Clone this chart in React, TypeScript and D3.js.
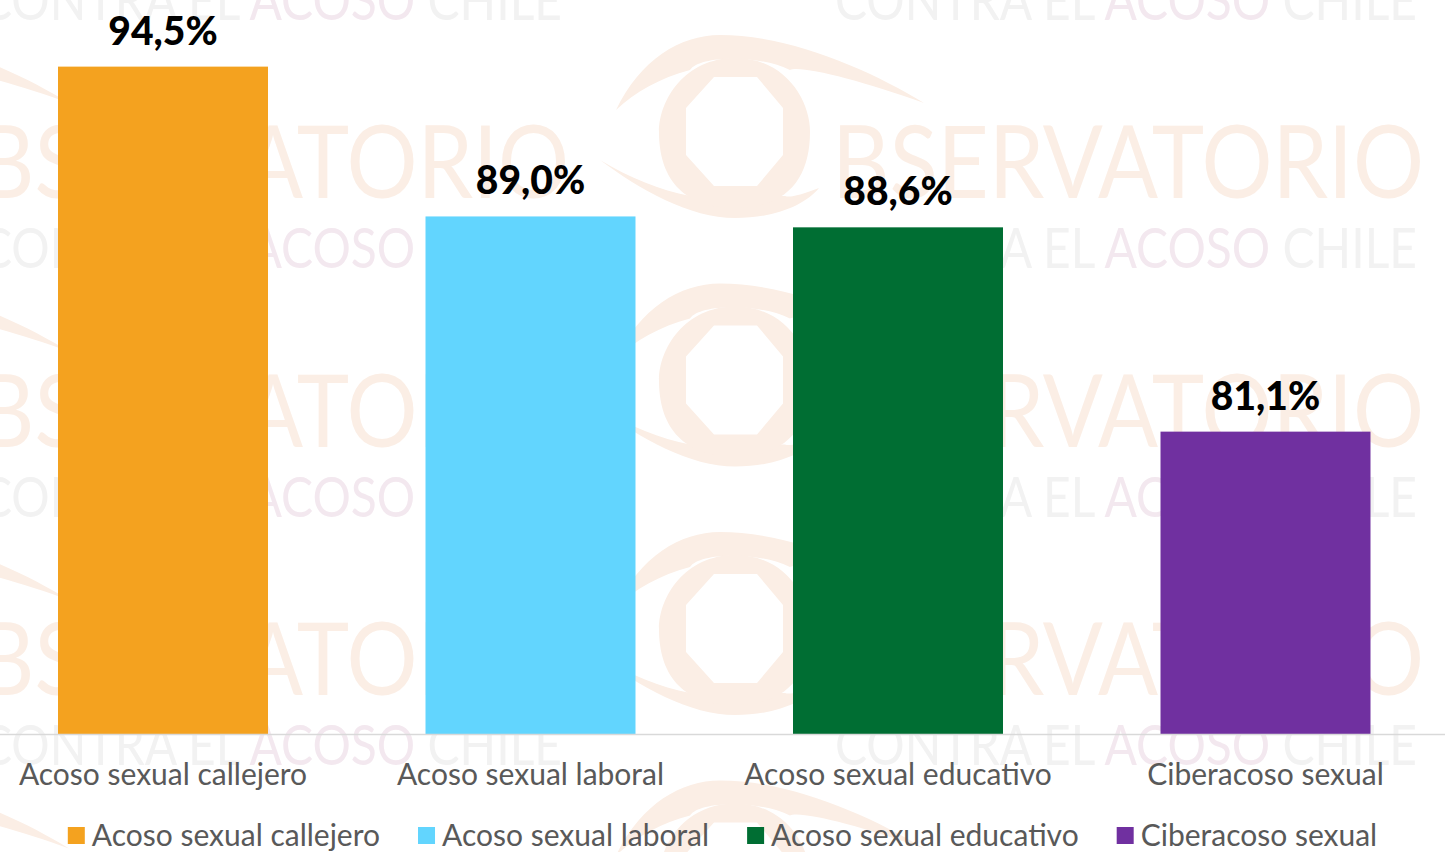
import React, { useEffect, useRef } from 'react';
import * as d3 from 'd3';

const categories = ['Acoso sexual callejero', 'Acoso sexual laboral', 'Acoso sexual educativo', 'Ciberacoso sexual'];
const values = [94.5, 89.0, 88.6, 81.1];
const colors = ['#F4A21F', '#62D5FE', '#006E33', '#7030A0'];
const valueLabels = ['94,5%', '89,0%', '88,6%', '81,1%'];

const W = 1445;
const H = 852;
const FONT = 'Lato, "Open Sans", sans-serif';

// faint logo tiled behind the chart
const drawWatermark = (g) => {
    const peach = '#FBEEE5';
    const grey = '#F2F2F2';
    const pink = '#F3E8EF';
    const tileW = 855;
    const tileH = 248.5;

    for (let row = -1; row <= 3; row++) {
        for (let col = -1; col <= 1; col++) {
            const t = g.append('g')
                .attr('transform', `translate(${col * tileW}, ${row * tileH})`);

            // eye: upper lid, lower lid, ring
            t.append('path')
                .attr('d', 'M616,110 C640,60 680,35 720,35 C790,35 870,70 924,103 C860,80 800,65 790,70 C760,55 700,55 690,70 C660,78 635,92 616,110 Z')
                .attr('fill', peach);
            t.append('path')
                .attr('d', 'M600,160 C640,190 690,218 735,218 C775,218 805,205 819,188 C800,195 790,198 785,196 L690,196 C660,190 630,178 600,160 Z')
                .attr('fill', peach);
            t.append('path')
                .attr('d', 'M735,58 C785,58 810,100 810,132 C810,175 790,208 735,208 C680,208 659,175 659,132 C659,100 685,58 735,58 Z ' +
                    'M714,77 L686,108 L686,155 L714,186 L757,186 L783,155 L783,108 L757,77 Z')
                .attr('fill', peach)
                .attr('fill-rule', 'evenodd');

            t.append('text')
                .attr('x', 832)
                .attr('y', 198)
                .attr('textLength', 592)
                .attr('lengthAdjust', 'spacingAndGlyphs')
                .style('font-family', FONT)
                .style('font-size', '101px')
                .attr('fill', peach)
                .text('BSERVATORIO');

            const contra = t.append('text')
                .attr('x', 835)
                .attr('y', 268)
                .attr('textLength', 582)
                .attr('lengthAdjust', 'spacingAndGlyphs')
                .style('font-family', FONT)
                .style('font-size', '56px');
            contra.append('tspan').attr('fill', grey).text('CONTRA EL ');
            contra.append('tspan').attr('fill', pink).text('ACOSO');
            contra.append('tspan').attr('fill', grey).text(' CHILE');
        }
    }
};

const App = () => {
    const svgRef = useRef(null);

    useEffect(() => {
        if (!svgRef.current) return;
        d3.select(svgRef.current).selectAll('*').remove();

        const svg = d3.select(svgRef.current)
            .attr('width', W)
            .attr('height', H);

        svg.append('rect').attr('width', W).attr('height', H).attr('fill', '#ffffff');
        drawWatermark(svg.append('g'));

        const x = d3.scaleBand()
            .domain(categories)
            .range([-20.75, 1449.25])
            .paddingInner(0.4286)
            .paddingOuter(0.2143);

        const y = d3.scaleLinear()
            .domain([70, 95])
            .range([734, 53]);

        // bars
        svg.append('g')
            .selectAll('rect')
            .data(values)
            .enter()
            .append('rect')
            .attr('x', (d, i) => x(categories[i]))
            .attr('y', d => y(d))
            .attr('width', x.bandwidth())
            .attr('height', d => y(70) - y(d))
            .attr('fill', (d, i) => colors[i]);

        // value labels
        svg.append('g')
            .selectAll('text')
            .data(values)
            .enter()
            .append('text')
            .attr('x', (d, i) => x(categories[i]) + x.bandwidth() / 2)
            .attr('y', d => y(d) - 22)
            .attr('text-anchor', 'middle')
            .style('font-family', FONT)
            .style('font-weight', 900)
            .style('font-size', '39px')
            .attr('fill', '#000000')
            .text((d, i) => valueLabels[i]);

        // x axis
        svg.append('line')
            .attr('x1', 0)
            .attr('x2', W)
            .attr('y1', y(70) + 0.5)
            .attr('y2', y(70) + 0.5)
            .attr('stroke', '#D9D9D9')
            .attr('stroke-width', 1.5);

        svg.append('g')
            .selectAll('text')
            .data(categories)
            .enter()
            .append('text')
            .attr('x', d => x(d) + x.bandwidth() / 2)
            .attr('y', 785)
            .attr('text-anchor', 'middle')
            .style('font-family', FONT)
            .style('font-size', '30px')
            .attr('fill', '#595959')
            .text(d => d);

        // legend
        const legend = svg.append('g');
        const items = categories.map((c, i) => {
            const g = legend.append('g');
            g.append('rect')
                .attr('width', 17)
                .attr('height', 17)
                .attr('y', 827)
                .attr('fill', colors[i]);
            const txt = g.append('text')
                .attr('x', 24)
                .attr('y', 846)
                .style('font-family', FONT)
                .style('font-size', '30px')
                .attr('fill', '#595959')
                .text(c);
            const w = 24 + txt.node().getComputedTextLength();
            return { g, w };
        });
        const gap = 38;
        const total = d3.sum(items, d => d.w) + gap * (items.length - 1);
        let cx = (W - total) / 2;
        items.forEach(it => {
            it.g.attr('transform', `translate(${cx}, 0)`);
            cx += it.w + gap;
        });
    }, []);

    return (
        <div style={{ position: 'absolute', left: 0, top: 0 }}>
            <svg ref={svgRef} width={W} height={H} style={{ display: 'block' }}></svg>
        </div>
    );
};

export default App;
